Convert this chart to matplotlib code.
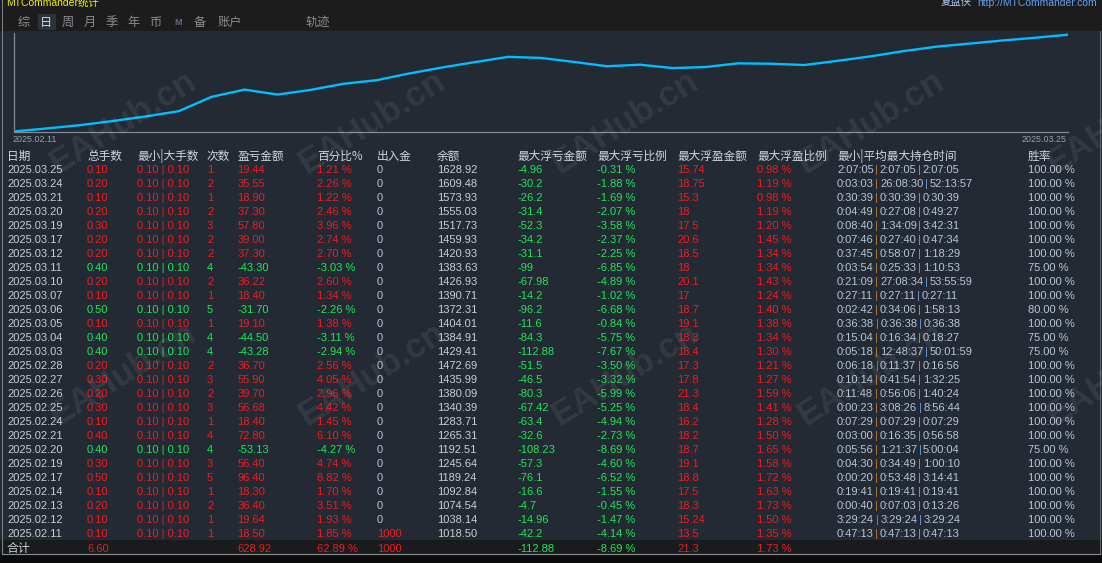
import matplotlib
matplotlib.use("Agg")
import matplotlib.pyplot as plt
from matplotlib.patches import Rectangle

W, H = 1102, 563

# ---- daily table, newest first ----
dates = ["2025.03.25", "2025.03.24", "2025.03.21", "2025.03.20", "2025.03.19", "2025.03.17",
         "2025.03.12", "2025.03.11", "2025.03.10", "2025.03.07", "2025.03.06", "2025.03.05",
         "2025.03.04", "2025.03.03", "2025.02.28", "2025.02.27", "2025.02.26", "2025.02.25",
         "2025.02.24", "2025.02.21", "2025.02.20", "2025.02.19", "2025.02.17", "2025.02.14",
         "2025.02.13", "2025.02.12", "2025.02.11"]
lots = [0.10, 0.20, 0.10, 0.20, 0.30, 0.20, 0.20, 0.40, 0.20, 0.10, 0.50, 0.10, 0.40, 0.40,
        0.20, 0.30, 0.20, 0.30, 0.10, 0.40, 0.40, 0.30, 0.50, 0.10, 0.20, 0.10, 0.10]
lot_min = [0.10] * 27
lot_max = [0.10] * 27
trades = [1, 2, 1, 2, 3, 2, 2, 4, 2, 1, 5, 1, 4, 4, 2, 3, 2, 3, 1, 4, 4, 3, 5, 1, 2, 1, 1]
pnl = [19.44, 35.55, 18.90, 37.30, 57.80, 39.00, 37.30, -43.30, 36.22, 18.40, -31.70, 19.10,
       -44.50, -43.28, 36.70, 55.90, 39.70, 56.68, 18.40, 72.80, -53.13, 56.40, 96.40, 18.30,
       36.40, 19.64, 18.50]
pct = [1.21, 2.26, 1.22, 2.46, 3.96, 2.74, 2.70, -3.03, 2.60, 1.34, -2.26, 1.38, -3.11, -2.94,
       2.56, 4.05, 2.96, 4.42, 1.45, 6.10, -4.27, 4.74, 8.82, 1.70, 3.51, 1.93, 1.85]
flows = [0] * 26 + [1000]
balance = [1628.92, 1609.48, 1573.93, 1555.03, 1517.73, 1459.93, 1420.93, 1383.63, 1426.93,
           1390.71, 1372.31, 1404.01, 1384.91, 1429.41, 1472.69, 1435.99, 1380.09, 1340.39,
           1283.71, 1265.31, 1192.51, 1245.64, 1189.24, 1092.84, 1074.54, 1038.14, 1018.50]
max_dd = [-4.96, -30.2, -26.2, -31.4, -52.3, -34.2, -31.1, -99, -67.98, -14.2, -96.2, -11.6,
          -84.3, -112.88, -51.5, -46.5, -80.3, -67.42, -63.4, -32.6, -108.23, -57.3, -76.1,
          -16.6, -4.7, -14.96, -42.2]
max_dd_pct = [-0.31, -1.88, -1.69, -2.07, -3.58, -2.37, -2.25, -6.85, -4.89, -1.02, -6.68,
              -0.84, -5.75, -7.67, -3.50, -3.32, -5.99, -5.25, -4.94, -2.73, -8.69, -4.60,
              -6.52, -1.55, -0.45, -1.47, -4.14]
max_fp = [15.74, 18.75, 15.3, 18, 17.5, 20.6, 18.5, 18, 20.1, 17, 18.7, 19.1, 18.3, 18.4, 17.3,
          17.8, 21.3, 18.4, 16.2, 18.2, 18.7, 19.1, 18.8, 17.5, 18.3, 15.24, 13.5]
max_fp_pct = [0.98, 1.19, 0.98, 1.19, 1.20, 1.45, 1.34, 1.34, 1.43, 1.24, 1.40, 1.38, 1.34, 1.30,
              1.21, 1.27, 1.59, 1.41, 1.28, 1.50, 1.65, 1.58, 1.72, 1.63, 1.73, 1.50, 1.35]
hold_min = ["2:07:05", "0:03:03", "0:30:39", "0:04:49", "0:08:40", "0:07:46", "0:37:45",
            "0:03:54", "0:21:09", "0:27:11", "0:02:42", "0:36:38", "0:15:04", "0:05:18",
            "0:06:18", "0:10:14", "0:11:48", "0:00:23", "0:07:29", "0:03:00", "0:05:56",
            "0:04:30", "0:00:20", "0:19:41", "0:00:40", "3:29:24", "0:47:13"]
hold_avg = ["2:07:05", "26:08:30", "0:30:39", "0:27:08", "1:34:09", "0:27:40", "0:58:07",
            "0:25:33", "27:08:34", "0:27:11", "0:34:06", "0:36:38", "0:16:34", "12:48:37",
            "0:11:37", "0:41:54", "0:56:06", "3:08:26", "0:07:29", "0:16:35", "1:21:37",
            "0:34:49", "0:53:48", "0:19:41", "0:07:03", "3:29:24", "0:47:13"]
hold_max = ["2:07:05", "52:13:57", "0:30:39", "0:49:27", "3:42:31", "0:47:34", "1:18:29",
            "1:10:53", "53:55:59", "0:27:11", "1:58:13", "0:36:38", "0:18:27", "50:01:59",
            "0:16:56", "1:32:25", "1:40:24", "8:56:44", "0:07:29", "0:56:58", "5:00:04",
            "1:00:10", "3:14:41", "0:19:41", "0:13:26", "3:29:24", "0:47:13"]
win_rate = [100, 100, 100, 100, 100, 100, 100, 75, 100, 100, 80, 100, 75, 75, 100, 100, 100,
            100, 100, 100, 75, 100, 100, 100, 100, 100, 100]

headers = ["日期", "总手数", "最小|大手数", "次数", "盈亏金额", "百分比%", "出入金", "余额",
           "最大浮亏金额", "最大浮亏比例", "最大浮盈金额", "最大浮盈比例", "最小|平均最大持仓时间", "胜率"]
tabs = ["综", "日", "周", "月", "季", "年", "币", "M", "备", "账户", "轨迹"]

# equity curve (evenly spaced samples)
equity = [1000, 1020, 1041, 1068, 1098, 1132, 1225, 1272, 1240, 1270, 1310, 1333, 1377, 1416,
          1451, 1485, 1478, 1452, 1424, 1434, 1412, 1419, 1443, 1440, 1432, 1459, 1488, 1522,
          1551, 1571, 1591, 1609, 1628.92]

RED = "#ee1c24"
GREEN = "#1ee65a"
LIGHT = "#c9ced6"
BLUEGRAY = "#b7c5da"
HEAD = "#d0d7e2"
PANEL = "#232a33"

plt.rcParams["font.family"] = ["Liberation Sans", "Noto Sans CJK SC", "DejaVu Sans"]

fig = plt.figure(figsize=(W / 100, H / 100), dpi=100, facecolor=PANEL)
ax = fig.add_axes([0, 0, 1, 1], zorder=0)
ax.set_xlim(0, W)
ax.set_ylim(H, 0)
ax.axis("off")

ax.add_patch(Rectangle((0, 0), W, 31, color="#1c1c1c", lw=0))
ax.add_patch(Rectangle((0, 31), W, 509, color=PANEL, lw=0))
ax.add_patch(Rectangle((0, 540), W, 14, color="#1a1b1c", lw=0))
ax.add_patch(Rectangle((0, 554), W, 9, color="#0b0b0b", lw=0))
ax.plot([1.5, 1.5], [0, 554], color="#7a7d82", lw=0.8)
ax.plot([1100, 1100], [31, 554], color="#5e6166", lw=0.8)
ax.plot([1.5, 1100], [554, 554], color="#8a8d92", lw=0.8)

# title bar
ax.text(6, 5.5, "MTCommander统计", color="#f2f000", fontsize=7.5, va="baseline")
ax.text(1097, 5.5, "http://MTCommander.com", color="#5fa2f2", fontsize=7.5, ha="right",
        va="baseline")
ax.text(972, 5.5, "复盘侠", color="#a9c8f0", fontsize=7.5, ha="right", va="baseline")

# tabs
tab_x = [23.3, 45.7, 68, 89.7, 111.7, 133.7, 155.3, 178, 199.7, 230, 318]
ax.add_patch(Rectangle((37.5, 14), 18, 16, color="#2c333c", lw=0))
for name, tx in zip(tabs, tab_x):
    col = "#d3d7dd" if name == "日" else "#8a8d92"
    if name == "M":
        ax.text(tx, 22.3, name, color="#5c6b80", fontsize=6.5, ha="center", va="center",
                fontweight="bold")
    else:
        ax.text(tx, 22.3, name, color=col, fontsize=8.8, ha="center", va="center",
                family=["Noto Sans CJK SC"])

# equity chart
axc = fig.add_axes([14 / W, (H - 131.5) / H, 1054 / W, 98.5 / H], zorder=1)
axc.set_facecolor("none")
axc.plot(range(len(equity)), equity, color="#00bfff", lw=1.7, solid_joinstyle="round")
axc.set_xlim(0, len(equity) - 1)
axc.set_ylim(1000, 1640)
for s in ["top", "right"]:
    axc.spines[s].set_visible(False)
for s in ["left", "bottom"]:
    axc.spines[s].set_color("#85888d")
    axc.spines[s].set_linewidth(0.9)
axc.set_xticks([])
axc.set_yticks([])
ax.text(13, 141.5, dates[-1], color="#9aa0a8", fontsize=6.4, va="baseline")
ax.text(1067, 141.5, dates[0], color="#9aa0a8", fontsize=6.4, ha="right", va="baseline")

# table
col_x = [7, 87, 137, 207, 237.5, 317, 377, 437, 517, 597, 677, 757, 837, 1027.5]
for hx, h in zip(col_x, headers):
    ax.text(hx, 160, h, color=HEAD, fontsize=8.4, va="baseline",
            family=["Noto Sans CJK SC", "Liberation Sans"])

renderer = fig.canvas.get_renderer()
FS = 8


def chain(x, y, parts, gap=1.6):
    for s, c in parts:
        t = ax.text(x, y, s, color=c, fontsize=FS, va="baseline")
        x = t.get_window_extent(renderer).x1 + gap


for i in range(len(dates)):
    y = 169.3 + 14 * i + 4
    c = RED if pnl[i] > 0 else GREEN
    cells = [
        (dates[i], LIGHT),
        (f"{lots[i]:.2f}", c),
        (f"{lot_min[i]:.2f} | {lot_max[i]:.2f}", c),
        (f"{trades[i]}", c),
        (f"{pnl[i]:.2f}", c),
        (f"{pct[i]:.2f} %", c),
        (f"{flows[i]}", RED if flows[i] else BLUEGRAY),
        (f"{balance[i]:.2f}", LIGHT),
        (f"{max_dd[i]:g}", GREEN),
        (f"{max_dd_pct[i]:.2f} %", GREEN),
        (f"{max_fp[i]:g}", RED),
        (f"{max_fp_pct[i]:.2f} %", RED),
    ]
    for cx, (s, col) in zip(col_x, cells):
        ax.text(cx, y, s, color=col, fontsize=FS, va="baseline")
    chain(col_x[12], y, [(hold_min[i], BLUEGRAY), ("|", "#c07a36"), (hold_avg[i], BLUEGRAY),
                         ("|", "#6f9fd8"), (hold_max[i], BLUEGRAY)])
    ax.text(col_x[13], y, f"{win_rate[i]:.2f} %", color=BLUEGRAY, fontsize=FS, va="baseline")

# totals row
fy = 552
ax.text(col_x[0], fy, "合计", color=LIGHT, fontsize=8.6, va="baseline",
        family=["Noto Sans CJK SC"])
total_pnl = sum(pnl)
totals = [
    (1, f"{sum(lots):.2f}", RED),
    (4, f"{total_pnl:.2f}", RED),
    (5, f"{total_pnl / sum(flows) * 100:.2f} %", RED),
    (6, f"{sum(flows)}", RED),
    (8, f"{min(max_dd):g}", GREEN),
    (9, f"{min(max_dd_pct):.2f} %", GREEN),
    (10, f"{max(max_fp):g}", RED),
    (11, f"{max(max_fp_pct):.2f} %", RED),
]
for k, s, col in totals:
    ax.text(col_x[k], fy, s, color=col, fontsize=FS, va="baseline")

# watermark
for wy in [122, 374]:
    for wx in [123, 372, 625, 871, 1120]:
        fig.text(wx / W, 1 - wy / H, "EAHub.cn", rotation=32, ha="center", va="center",
                 fontsize=25, fontweight="bold", color="white", alpha=0.075, zorder=10)

fig.savefig("out.png", dpi=100, facecolor=fig.get_facecolor())
